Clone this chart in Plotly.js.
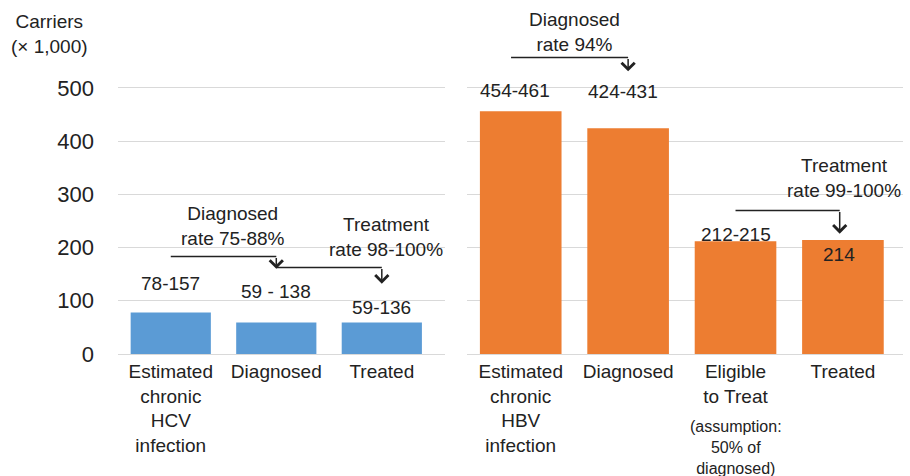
<!DOCTYPE html>
<html>
<head>
<meta charset="utf-8">
<script src="https://cdn.plot.ly/plotly-3.0.1.min.js"></script>
<style>html,body{margin:0;padding:0;background:#fff;}#chart{width:910px;height:476px;}</style>
</head>
<body>
<div id="chart"></div>
<script>
// ---- data ----
var hcvCategories = ['Estimated<br>chronic<br>HCV<br>infection', 'Diagnosed', 'Treated'];
var hcvValues = [78, 59, 59];
var hcvLabels = ['78-157', '59 - 138', '59-136'];

var hbvCategories = ['Estimated<br>chronic<br>HBV<br>infection', 'Diagnosed', 'Eligible<br>to Treat', 'Treated'];
var hbvValues = [456, 424, 212, 214];
var hbvLabels = ['454-461', '424-431', '212-215', '214'];

var yTicks = [0, 100, 200, 300, 400, 500];

// ---- styles ----
var FONT = 'Liberation Sans, Arial, sans-serif';
var INK = '#222222';
var GRID = '#d9d9d9';

var traces = [
  {type: 'bar', x: hcvCategories, y: hcvValues, xaxis: 'x', yaxis: 'y',
   marker: {color: '#5b9bd5'}, hoverinfo: 'none'},
  {type: 'bar', x: hbvCategories, y: hbvValues, xaxis: 'x2', yaxis: 'y2',
   marker: {color: '#ed7d31'}, hoverinfo: 'none'}
];

function txt(xref, yref, x, y, text, size, extra) {
  var a = {xref: xref, yref: yref, x: x, y: y, text: text, showarrow: false,
           font: {family: FONT, size: size || 19, color: INK},
           xanchor: 'center', yanchor: 'middle'};
  for (var k in extra) a[k] = extra[k];
  return a;
}
function arrow(xref, yref, x, yHead, yTail) {
  return {xref: xref, yref: yref, x: x, y: yHead, axref: xref, ayref: yref, ax: x, ay: yTail,
          text: '', showarrow: true, arrowhead: 4, arrowsize: 1.7, arrowwidth: 1.5,
          arrowcolor: INK, standoff: 0, startstandoff: 0};
}
function hline(xref, yref, x0, x1, y) {
  return {type: 'line', xref: xref, yref: yref, x0: x0, x1: x1, y0: y, y1: y,
          line: {color: INK, width: 1.5}};
}

var annotations = [
  txt('paper', 'paper', -0.087, 0.904, 'Carriers<br>(× 1,000)', 19),
  // HCV bar labels
  txt('x', 'y', 0, 133, hcvLabels[0]),
  txt('x', 'y', 1, 117, hcvLabels[1]),
  txt('x', 'y', 2, 87, hcvLabels[2]),
  // HCV rates
  txt('x', 'y', 0.59, 240, 'Diagnosed<br>rate 75-88%'),
  txt('x', 'y', 2.04, 220, 'Treatment<br>rate 98-100%'),
  arrow('x', 'y', 1, 160, 183),
  arrow('x', 'y', 2, 132, 162.5),
  // HBV bar labels
  txt('x2', 'y2', -0.05, 495, hbvLabels[0]),
  txt('x2', 'y2', 0.95, 493, hbvLabels[1]),
  txt('x2', 'y2', 2.0, 225, hbvLabels[2]),
  txt('x2', 'y2', 2.96, 187, hbvLabels[3]),
  // HBV rates
  txt('x2', 'y2', 0.5, 604, 'Diagnosed<br>rate 94%'),
  txt('x2', 'y2', 3.01, 330, 'Treatment<br>rate 99-100%'),
  arrow('x2', 'y2', 1, 531, 557),
  arrow('x2', 'y2', 2.97, 226, 269.5),
  // note under "Eligible to Treat"
  txt('x2', 'paper', 2, -0.263, '(assumption:<br>50% of<br>diagnosed)', 16)
];

var shapes = [
  hline('x', 'y', 0, 1, 183),
  hline('x', 'y', 1, 2, 162.5),
  hline('x2', 'y2', -0.09, 1, 557),
  hline('x2', 'y2', 2, 2.97, 269.5)
];

var yCommon = {range: [0, 665], tickvals: yTicks, showgrid: true, gridcolor: GRID, gridwidth: 1,
               zeroline: true, zerolinecolor: GRID, zerolinewidth: 1, showline: false, fixedrange: true};
var xCommon = {type: 'category', showgrid: false, zeroline: false, showline: false, ticks: '',
               tickfont: {family: FONT, size: 19, color: INK}, ticklabelstandoff: 4, fixedrange: true};

var layout = {
  width: 910, height: 476,
  margin: {l: 118, r: 7, t: 0, b: 122},
  paper_bgcolor: '#ffffff', plot_bgcolor: '#ffffff',
  showlegend: false, bargap: 0.24,
  font: {family: FONT, color: INK},
  xaxis: Object.assign({}, xCommon, {domain: [0, 0.4166], anchor: 'y'}),
  xaxis2: Object.assign({}, xCommon, {domain: [0.4446, 1], anchor: 'y2'}),
  yaxis: Object.assign({}, yCommon, {anchor: 'x', showticklabels: true,
          tickfont: {family: FONT, size: 22, color: INK}, ticks: '', ticklabelstandoff: 23}),
  yaxis2: Object.assign({}, yCommon, {anchor: 'x2', showticklabels: false, ticks: ''}),
  annotations: annotations,
  shapes: shapes
};

Plotly.newPlot('chart', traces, layout, {displayModeBar: false, staticPlot: true});
</script>
</body>
</html>
